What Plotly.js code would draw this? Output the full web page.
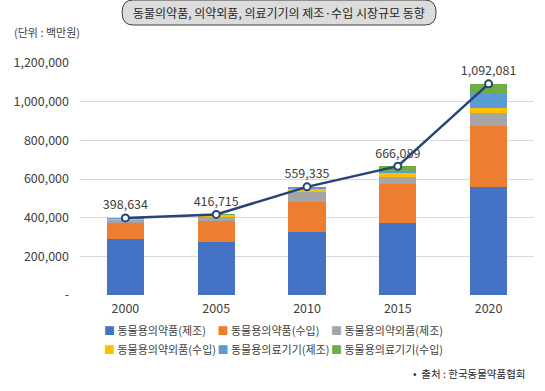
<!DOCTYPE html>
<html><head><meta charset="utf-8">
<script src="https://cdn.plot.ly/plotly-3.0.1.min.js"></script>
<style>html,body{margin:0;padding:0;background:#fff}#chart{width:545px;height:391px}</style>
</head><body><div id="chart"></div>
<script>
const years = ['2000','2005','2010','2015','2020'];
const seriesNames = ['동물용의약품(제조)','동물용의약품(수입)','동물용의약외품(제조)','동물용의약외품(수입)','동물용의료기기(제조)','동물용의료기기(수입)'];
const drugMfg = [289500, 275500, 324000, 370500, 556500];
const drugImp = [80500, 108500, 158000, 203000, 318500];
const quasiMfg = [20500, 17500, 52000, 38000, 67000];
const quasiImp = [5000, 12000, 12000, 17500, 24500];
const deviceMfg = [1500, 2000, 8000, 8000, 79000];
const deviceImp = [1634, 1215, 5335, 29089, 46581];
const totals = [398634, 416715, 559335, 666089, 1092081];
const colors = ['#4472C4','#ED7D31','#A5A5A5','#FFC000','#5B9BD5','#70AD47'];
const yTickVals = [0,200000,400000,600000,800000,1000000,1200000];
const yTickText = ['-','200,000','400,000','600,000','800,000','1,000,000','1,200,000'];

const font = 'Noto Sans CJK KR, Noto Sans, sans-serif';
const seriesData = [drugMfg, drugImp, quasiMfg, quasiImp, deviceMfg, deviceImp];
const traces = seriesData.map((vals,i)=>({
  type:'bar', x:years, y:vals, name:seriesNames[i], showlegend:false,
  marker:{color:colors[i]}, hoverinfo:'skip'
}));
// legend entries: colored square glyph in text; one legend per column (order row-wise)
const legendIds = ['legend','legend2','legend3'];
seriesNames.forEach((n,i)=>traces.push({
  type:'scatter', mode:'markers', x:[null], y:[null], showlegend:true,
  legend: legendIds[i % 3],
  name:'<span style="color:'+colors[i]+'">■</span> '+n,
  marker:{color:'rgba(0,0,0,0)', size:0, line:{width:0}}
}));
traces.push({
  type:'scatter', mode:'lines+markers+text', x:years, y:totals, showlegend:false,
  line:{color:'#264478', width:2.5},
  marker:{size:7, color:'#ffffff', line:{color:'#264478', width:2}},
  text: totals.map(v=>v.toLocaleString('en-US')), textposition:'top center',
  textfont:{family:font, size:12.5, color:'#404040'}, cliponaxis:false
});

const legendBase = {orientation:'v', xanchor:'left', yanchor:'top', y:-0.09,
    traceorder:'normal', bgcolor:'rgba(0,0,0,0)', tracegroupgap:0,
    font:{family:font, size:11, color:'#404040'}};
const colPx = [64, 177.5, 291];

const layout = {
  width:545, height:391, barmode:'stack', bargap:0.59,
  margin:{l:80, r:11, t:63, b:96},
  paper_bgcolor:'#fff', plot_bgcolor:'#fff',
  font:{family:font, color:'#404040'},
  xaxis:{type:'category', showgrid:false, zeroline:false, showline:false, ticks:'',
    ticklabelstandoff:4, tickfont:{family:font, size:12.5, color:'#404040'}},
  yaxis:{range:[0,1200000], tickvals:yTickVals, ticktext:yTickText, showgrid:true,
    gridcolor:'#d9d9d9', gridwidth:1, zeroline:false, showline:false, ticks:'',
    ticklabelstandoff:10, tickfont:{family:font, size:12.5, color:'#404040'}},
  legend:Object.assign({}, legendBase, {x:(colPx[0]-80)/454}),
  legend2:Object.assign({}, legendBase, {x:(colPx[1]-80)/454}),
  legend3:Object.assign({}, legendBase, {x:(colPx[2]-80)/454}),
  shapes:[{
    type:'path', xref:'paper', yref:'paper', xsizemode:'pixel', ysizemode:'pixel',
    xanchor:0.4385, yanchor:1,
    path:'M -146,38 L 146,38 Q 157,38 157,50.5 Q 157,63 146,63 L -146,63 Q -157,63 -157,50.5 Q -157,38 -146,38 Z',
    fillcolor:'#dcdcdc', line:{color:'#404040', width:1}
  }],
  annotations:[
    {text:'동물의약품, 의약외품, 의료기기의 제조·수입 시장규모 동향', xref:'paper', yref:'paper',
     x:0.4385, y:1, yshift:50.5, xanchor:'center', yanchor:'middle', showarrow:false,
     font:{family:font, size:12, color:'#262626'}},
    {text:'(단위 : 백만원)', xref:'paper', yref:'paper', x:-0.149, y:1, yshift:31, xanchor:'left', yanchor:'middle',
     showarrow:false, font:{family:font, size:11, color:'#404040'}},
    {text:'•  출처 : 한국동물약품협회', xref:'paper', yref:'paper', x:(528-80)/454, y:0, yshift:-78, xanchor:'right', yanchor:'middle',
     showarrow:false, font:{family:font, size:10.5, color:'#262626'}}
  ]
};
Plotly.newPlot('chart', traces, layout, {displayModeBar:false, staticPlot:true});
</script></body></html>
